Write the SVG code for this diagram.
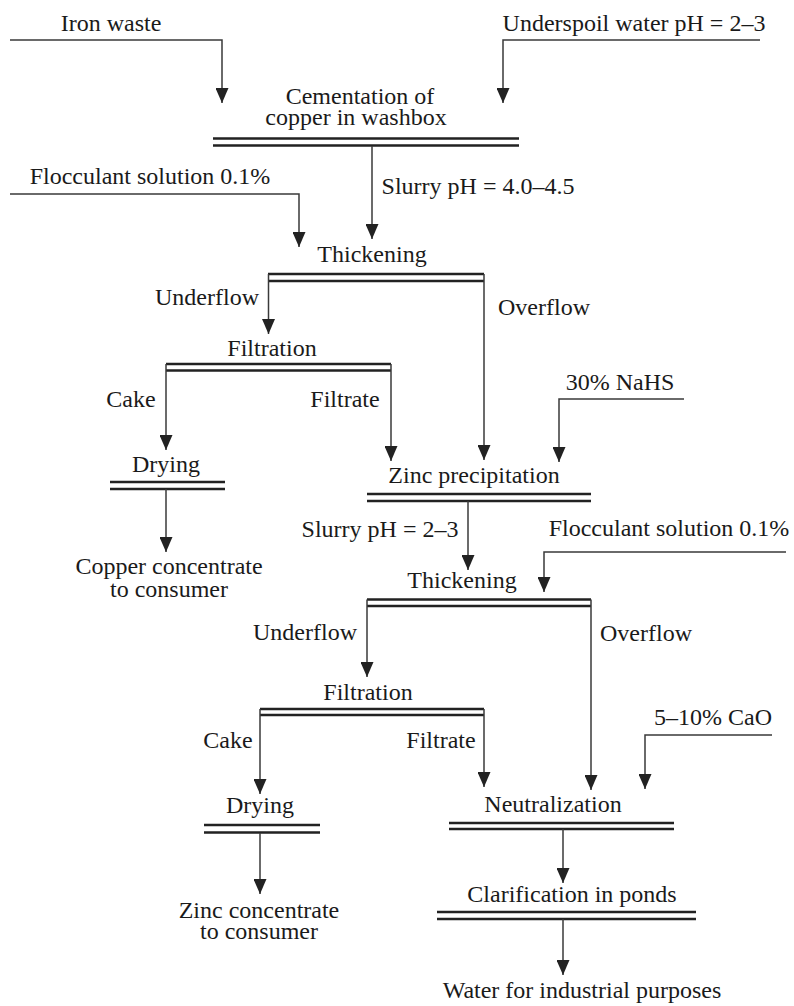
<svg xmlns="http://www.w3.org/2000/svg" width="794" height="1006" viewBox="0 0 794 1006">
<style>
text{font-family:"Liberation Serif","Times New Roman",serif;font-size:24px;fill:#1a1a1a}
.m{text-anchor:middle}
.bar{stroke:#222;stroke-width:2.4;fill:none}
.c{stroke:#3a3a3a;stroke-width:1.5;fill:none;marker-end:url(#arr)}
</style>
<defs>
<marker id="arr" viewBox="0 0 15 13" refX="15" refY="6.5" markerWidth="15" markerHeight="13" markerUnits="userSpaceOnUse" orient="auto">
<path d="M0,0 L15,6.5 L0,13 z" fill="#222"/>
</marker>
</defs>
<rect width="794" height="1006" fill="#fff"/>
<g id="inputs">
<text class="m" x="111" y="31">Iron waste</text>
<text class="m" x="634" y="31">Underspoil water pH = 2–3</text>
<text class="m" x="150" y="184">Flocculant solution 0.1%</text>
<text class="m" x="620" y="390">30% NaHS</text>
<text class="m" x="669" y="536">Flocculant solution 0.1%</text>
<text class="m" x="713" y="725">5–10% CaO</text>
</g>
<g id="n-cementation">
<text class="m" x="360" y="104">Cementation of</text>
<text class="m" x="356" y="125">copper in washbox</text>
<path class="bar" d="M213,138.5 H519 M213,145.5 H519"/>
</g>
<g id="n-thickening1">
<text class="m" x="372" y="262">Thickening</text>
<path class="bar" d="M268,274 H484 M268,281 H484"/>
</g>
<g id="n-filtration1">
<text class="m" x="272" y="356">Filtration</text>
<path class="bar" d="M166,364 H391 M166,370.5 H391"/>
</g>
<g id="n-drying1">
<text class="m" x="166" y="472">Drying</text>
<path class="bar" d="M110,482 H225 M110,489 H225"/>
</g>
<g id="n-copper">
<text class="m" x="169" y="574">Copper concentrate</text>
<text class="m" x="169" y="597">to consumer</text>
</g>
<g id="n-zinc">
<text class="m" x="474" y="483">Zinc precipitation</text>
<path class="bar" d="M367,494 H591 M367,501 H591"/>
</g>
<g id="n-thickening2">
<text class="m" x="462" y="588">Thickening</text>
<path class="bar" d="M367,599.5 H591 M367,606 H591"/>
</g>
<g id="n-filtration2">
<text class="m" x="368" y="700">Filtration</text>
<path class="bar" d="M260,709 H484 M260,715 H484"/>
</g>
<g id="n-drying2">
<text class="m" x="260" y="813">Drying</text>
<path class="bar" d="M204,825 H320 M204,832.5 H320"/>
</g>
<g id="n-zincconc">
<text class="m" x="259" y="918">Zinc concentrate</text>
<text class="m" x="259" y="939">to consumer</text>
</g>
<g id="n-neutralization">
<text class="m" x="553" y="812">Neutralization</text>
<path class="bar" d="M449,823 H674 M449,829 H674"/>
</g>
<g id="n-clarification">
<text class="m" x="572" y="902">Clarification in ponds</text>
<path class="bar" d="M437,912 H696 M437,919 H696"/>
</g>
<g id="n-water">
<text class="m" x="582" y="998">Water for industrial purposes</text>
</g>
<g id="connectors">
<path class="c" d="M10,40 H222 V103"/>
<path class="c" d="M760,40 H503 V103"/>
<path class="c" d="M372,146 V239"/>
<path class="c" d="M10,194 H299 V247"/>
<path class="c" d="M268.5,274 V334"/>
<path class="c" d="M484,274 V460"/>
<path class="c" d="M166,364 V450"/>
<path class="c" d="M391,364 V461"/>
<path class="c" d="M684,399 H559 V462"/>
<path class="c" d="M166,489 V552"/>
<path class="c" d="M468,501 V570"/>
<path class="c" d="M786,552 H544 V592"/>
<path class="c" d="M367,599.5 V677"/>
<path class="c" d="M591,599.5 V790"/>
<path class="c" d="M260,709 V794"/>
<path class="c" d="M484,709 V787"/>
<path class="c" d="M772,735 H645 V789"/>
<path class="c" d="M260,833 V894"/>
<path class="c" d="M563,829 V883"/>
<path class="c" d="M563,919 V975"/>
<text class="m" x="478" y="194">Slurry pH = 4.0–4.5</text>
<text class="m" x="207" y="305">Underflow</text>
<text class="m" x="544" y="315">Overflow</text>
<text class="m" x="131" y="407">Cake</text>
<text class="m" x="345" y="407">Filtrate</text>
<text class="m" x="380" y="537">Slurry pH = 2–3</text>
<text class="m" x="305" y="640">Underflow</text>
<text class="m" x="646" y="641">Overflow</text>
<text class="m" x="228" y="748">Cake</text>
<text class="m" x="441" y="748">Filtrate</text>
</g>
</svg>
